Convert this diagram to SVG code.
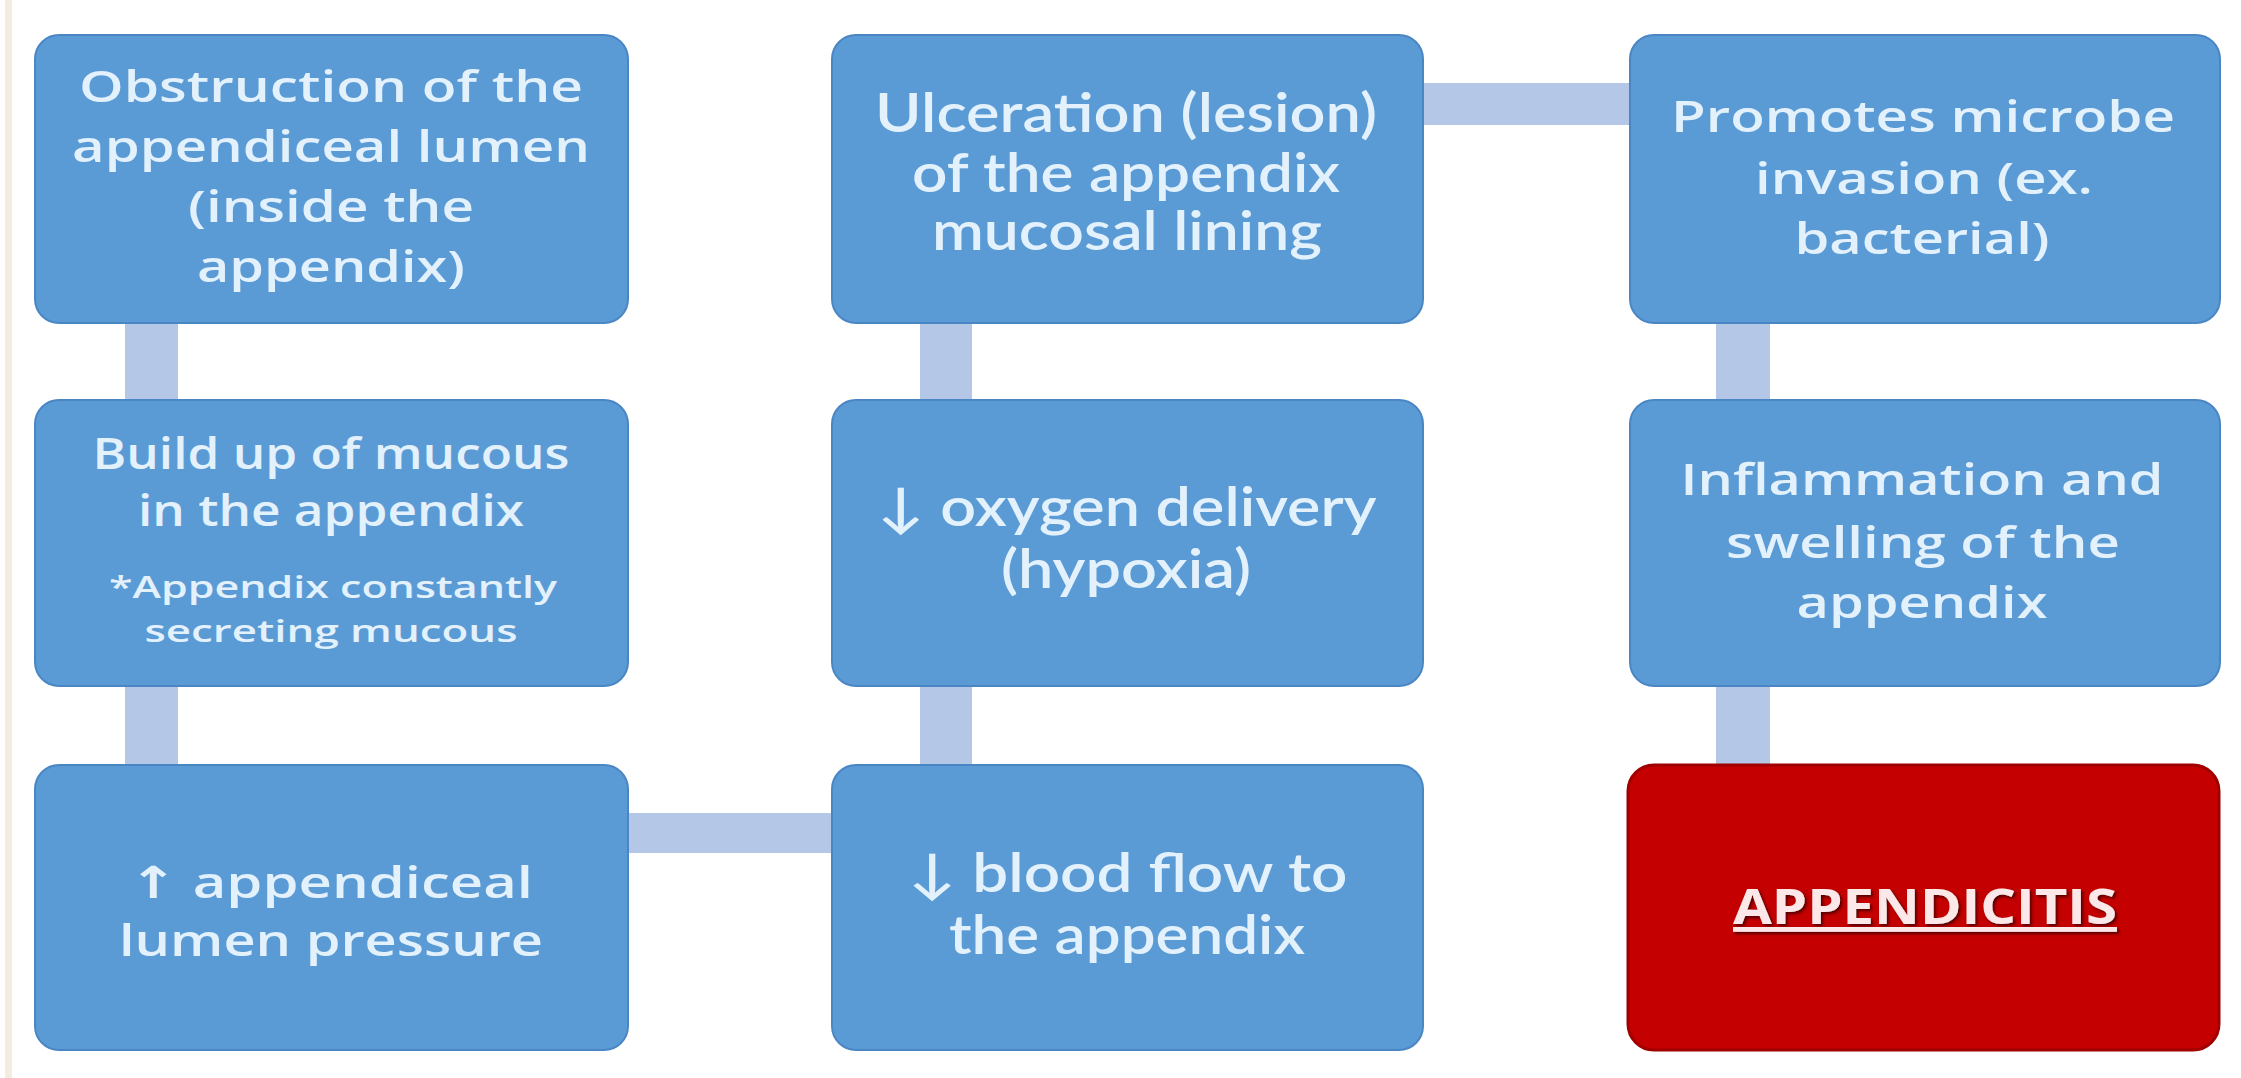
<svg xmlns="http://www.w3.org/2000/svg" width="2241" height="1078" viewBox="0 0 2241 1078">
<defs>
<style>
.box{fill:#5b9bd5;stroke:#4a86c4;stroke-width:2}
.red{fill:#c40000;stroke:#a00000;stroke-width:3}
.t{font-family:"Open Sans","Noto Sans","DejaVu Sans",sans-serif;font-weight:600;font-size:44px;fill:#e2f1fb;text-anchor:middle}
.s{font-size:31px}
.n{font-family:Lato,"Open Sans","DejaVu Sans",sans-serif;font-weight:600;font-size:53px}
.conn{stroke:#b4c7e7;fill:none}
.big{font-family:"Open Sans","Liberation Sans",sans-serif;font-weight:700;font-size:48px;fill:#fce8e8;text-anchor:middle;text-decoration:underline}
</style>
<filter id="sh" x="-10%" y="-30%" width="120%" height="160%">
<feDropShadow dx="2" dy="2" stdDeviation="1.5" flood-color="#4a0000" flood-opacity="0.9"/>
</filter>
</defs>
<rect x="0" y="0" width="2241" height="1078" fill="#ffffff"/>
<rect x="5" y="0" width="7" height="1078" fill="#f3ece1"/>
<g id="connectors">
<line class="conn" x1="151.5" y1="320" x2="151.5" y2="402" stroke-width="53"/>
<line class="conn" x1="151.5" y1="684" x2="151.5" y2="767" stroke-width="53"/>
<line class="conn" x1="626" y1="833" x2="834" y2="833" stroke-width="40"/>
<line class="conn" x1="946" y1="684" x2="946" y2="767" stroke-width="52"/>
<line class="conn" x1="946" y1="320" x2="946" y2="402" stroke-width="52"/>
<line class="conn" x1="1421" y1="104" x2="1632" y2="104" stroke-width="42"/>
<line class="conn" x1="1743" y1="320" x2="1743" y2="402" stroke-width="54"/>
<line class="conn" x1="1743" y1="684" x2="1743" y2="767" stroke-width="54"/>
</g>
<g id="n1">
<rect class="box" x="35" y="35" width="593" height="288" rx="24"/>
<text class="t"><tspan x="331" y="102" textLength="504" lengthAdjust="spacingAndGlyphs">Obstruction of the</tspan><tspan x="331" y="162" textLength="518" lengthAdjust="spacingAndGlyphs">appendiceal lumen</tspan><tspan x="331" y="222" textLength="286" lengthAdjust="spacingAndGlyphs">(inside the</tspan><tspan x="331" y="282" textLength="268" lengthAdjust="spacingAndGlyphs">appendix)</tspan></text>
</g>
<g id="n2">
<rect class="box" x="35" y="400" width="593" height="286" rx="24"/>
<text class="t"><tspan x="331" y="469" textLength="477" lengthAdjust="spacingAndGlyphs">Build up of mucous</tspan><tspan x="331" y="526" textLength="386" lengthAdjust="spacingAndGlyphs">in the appendix</tspan></text>
<text class="t s"><tspan x="333" y="598" textLength="448" lengthAdjust="spacingAndGlyphs">*Appendix constantly</tspan><tspan x="331" y="642" textLength="373" lengthAdjust="spacingAndGlyphs">secreting mucous</tspan></text>
</g>
<g id="n3">
<rect class="box" x="35" y="765" width="593" height="285" rx="24"/>
<text class="t"><tspan x="331" y="898" textLength="404" lengthAdjust="spacingAndGlyphs">↑ appendiceal</tspan><tspan x="331" y="956" textLength="424" lengthAdjust="spacingAndGlyphs">lumen pressure</tspan></text>
</g>
<g id="n4">
<rect class="box" x="832" y="765" width="591" height="285" rx="24"/>
<text class="t n"><tspan x="1128" y="892" textLength="439" lengthAdjust="spacingAndGlyphs">↓ blood flow to</tspan><tspan x="1127" y="954" textLength="356" lengthAdjust="spacingAndGlyphs">the appendix</tspan></text>
</g>
<g id="n5">
<rect class="box" x="832" y="400" width="591" height="286" rx="24"/>
<text class="t n"><tspan x="1127" y="526" textLength="499" lengthAdjust="spacingAndGlyphs">↓ oxygen delivery</tspan><tspan x="1126" y="588" textLength="250" lengthAdjust="spacingAndGlyphs">(hypoxia)</tspan></text>
</g>
<g id="n6">
<rect class="box" x="832" y="35" width="591" height="288" rx="24"/>
<text class="t n"><tspan x="1126" y="132" textLength="502" lengthAdjust="spacingAndGlyphs">Ulceration (lesion)</tspan><tspan x="1126" y="192" textLength="428" lengthAdjust="spacingAndGlyphs">of the appendix</tspan><tspan x="1127" y="250" textLength="390" lengthAdjust="spacingAndGlyphs">mucosal lining</tspan></text>
</g>
<g id="n7">
<rect class="box" x="1630" y="35" width="590" height="288" rx="24"/>
<text class="t"><tspan x="1923" y="132" textLength="504" lengthAdjust="spacingAndGlyphs">Promotes microbe</tspan><tspan x="1924" y="194" textLength="338" lengthAdjust="spacingAndGlyphs">invasion (ex.</tspan><tspan x="1922" y="254" textLength="255" lengthAdjust="spacingAndGlyphs">bacterial)</tspan></text>
</g>
<g id="n8">
<rect class="box" x="1630" y="400" width="590" height="286" rx="24"/>
<text class="t"><tspan x="1922" y="495" textLength="483" lengthAdjust="spacingAndGlyphs">Inflammation and</tspan><tspan x="1923" y="558" textLength="394" lengthAdjust="spacingAndGlyphs">swelling of the</tspan><tspan x="1922" y="618" textLength="251" lengthAdjust="spacingAndGlyphs">appendix</tspan></text>
</g>
<g id="n9">
<rect class="red" x="1628" y="765" width="591" height="285" rx="26"/>
<text class="big" x="1925" y="924" textLength="384" lengthAdjust="spacingAndGlyphs" filter="url(#sh)">APPENDICITIS</text>
</g>
</svg>
